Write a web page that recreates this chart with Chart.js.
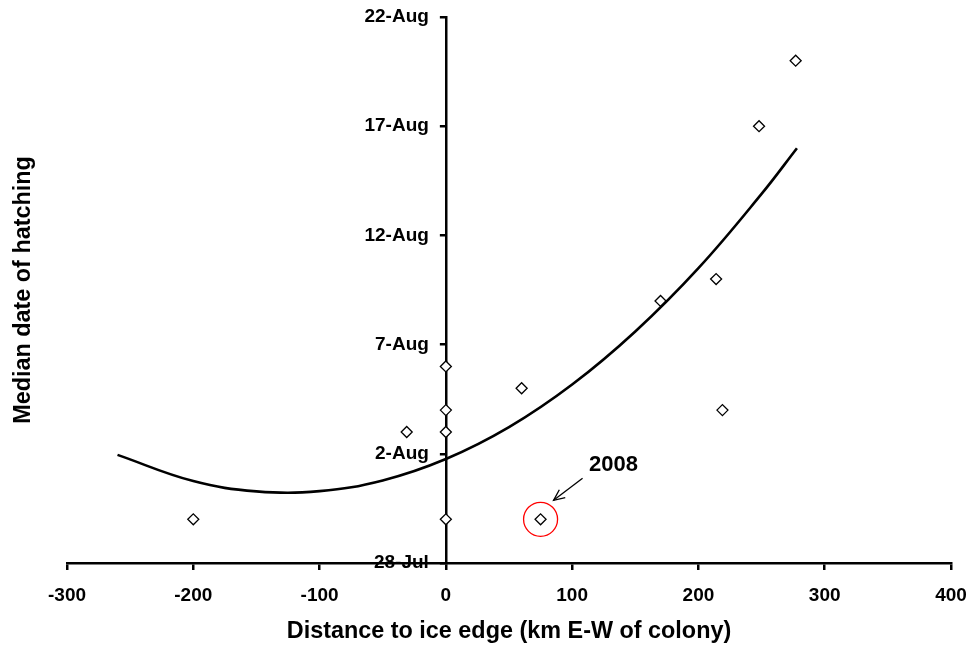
<!DOCTYPE html>
<html>
<head>
<meta charset="utf-8">
<script src="https://cdn.jsdelivr.net/npm/chart.js@4/dist/chart.umd.min.js"></script>
<style>
  html, body { margin: 0; padding: 0; background: #fff; }
  #wrap { width: 974px; height: 647px; }
</style>
</head>
<body>
<div id="wrap"><canvas id="c" width="974" height="647"></canvas></div>
<script>
// ---- data (y = days after 28-Jul) ----
const distanceKm = [-200, -31, 0, 0, 0, 0, 60, 75, 170, 214, 219, 248, 277];
const hatchDay   = [2, 6, 9, 7, 6, 2, 8, 2, 12, 13, 7, 20, 23];
// trend curve
const trendX = [-260, -200, -150, -100, -50, 0, 50, 100, 150, 200, 250, 278];
const trendY = [4.95, 3.75, 3.28, 3.29, 3.78, 4.76, 6.22, 8.17, 10.6, 13.5, 16.9, 18.99];
const yTickLabels = ['28-Jul', '2-Aug', '7-Aug', '12-Aug', '17-Aug', '22-Aug'];
const xTitle = 'Distance to ice edge (km E-W of colony)';
const yTitle = 'Median date of hatching';
const noteText = '2008';
const noteYear = { x: 75, y: 2 };
const yAxisAtX = 0;

const FONT = 'Arial, "Liberation Sans", sans-serif';

function noPad(s) { s.paddingTop = 0; s.paddingBottom = 0; s.paddingLeft = 0; s.paddingRight = 0; }

// move the y axis so that it crosses the x axis at x = 0
const crossAxis = {
  id: 'crossAxis',
  afterLayout(chart) {
    const ys = chart.scales.y;
    const x0 = chart.scales.x.getPixelForValue(yAxisAtX);
    ys.left = x0 - 100;
    ys.right = x0;
    ys.width = 100;
  }
};

const annot = {
  id: 'annot',
  afterDatasetsDraw(chart) {
    const xs = chart.scales.x, ys = chart.scales.y, ctx = chart.ctx;
    const cx = xs.getPixelForValue(noteYear.x), cy = ys.getPixelForValue(noteYear.y);
    ctx.save();
    ctx.strokeStyle = '#ff0000';
    ctx.lineWidth = 1.3;
    ctx.beginPath();
    ctx.arc(cx, cy, 17, 0, Math.PI * 2);
    ctx.stroke();
    const x1 = cx + 42, y1 = cy - 41, x2 = cx + 13, y2 = cy - 19;
    ctx.strokeStyle = '#000';
    ctx.lineWidth = 1.3;
    ctx.beginPath(); ctx.moveTo(x1, y1); ctx.lineTo(x2, y2); ctx.stroke();
    const ang = Math.atan2(y2 - y1, x2 - x1);
    const L = 12;
    ctx.beginPath();
    ctx.moveTo(x2 - L * Math.cos(ang - 0.42), y2 - L * Math.sin(ang - 0.42));
    ctx.lineTo(x2, y2);
    ctx.lineTo(x2 - L * Math.cos(ang + 0.42), y2 - L * Math.sin(ang + 0.42));
    ctx.stroke();
    ctx.fillStyle = '#000';
    ctx.font = 'bold 22px ' + FONT;
    ctx.textAlign = 'center';
    ctx.textBaseline = 'middle';
    ctx.fillText(noteText, cx + 73, cy - 54);
    ctx.restore();
  }
};

new Chart(document.getElementById('c'), {
  type: 'scatter',
  data: {
    datasets: [
      {
        label: 'trend',
        data: trendX.map((x, i) => ({ x, y: trendY[i] })),
        showLine: true,
        borderColor: '#000',
        borderWidth: 2.6,
        pointRadius: 0,
        tension: 0.4,
        fill: false
      },
      {
        label: 'colonies',
        data: distanceKm.map((x, i) => ({ x, y: hatchDay[i] })),
        pointStyle: 'rectRot',
        pointRadius: 5.5,
        pointBackgroundColor: '#fff',
        pointBorderColor: '#000',
        pointBorderWidth: 1.3
      }
    ]
  },
  options: {
    responsive: false,
    animation: false,
    layout: { padding: { top: 17, right: 23, left: 6, bottom: 0 } },
    plugins: { legend: { display: false }, tooltip: { enabled: false } },
    scales: {
      x: {
        type: 'linear',
        position: 'bottom',
        min: -300, max: 400,
        afterFit(s) { s.height = 84; noPad(s); },
        ticks: {
          stepSize: 100,
          color: '#000',
          padding: 14,
          font: { family: FONT, size: 19, weight: 'bold' }
        },
        grid: { display: true, drawOnChartArea: false, drawTicks: true, tickLength: 7, color: '#000', lineWidth: 2.5 },
        border: { display: true, color: '#000', width: 2.5 },
        title: {
          display: true, text: xTitle, color: '#000',
          font: { family: FONT, size: 23.4, weight: 'bold' },
          padding: { top: 4, bottom: 1 }
        }
      },
      y: {
        type: 'linear',
        position: 'left',
        min: 0, max: 25,
        afterFit(s) { s.width = 0; noPad(s); },
        ticks: {
          stepSize: 5,
          color: '#000',
          padding: 11,
          font: { family: FONT, size: 19, weight: 'bold' },
          callback: (v) => yTickLabels[Math.round(v / 5)]
        },
        grid: { display: true, drawOnChartArea: false, drawTicks: true, tickLength: 6, color: '#000', lineWidth: 2.5 },
        border: { display: true, color: '#000', width: 2.5 }
      },
      yTitleAxis: {
        type: 'linear',
        position: 'left',
        min: 0, max: 1,
        afterFit(s) { s.width = 61; noPad(s); },
        ticks: { display: false },
        grid: { display: false },
        border: { display: false },
        title: {
          display: true, text: yTitle, color: '#000',
          font: { family: FONT, size: 23.4, weight: 'bold' },
          padding: { top: 4, bottom: 4 }
        }
      }
    }
  },
  plugins: [crossAxis, annot]
});
</script>
</body>
</html>
